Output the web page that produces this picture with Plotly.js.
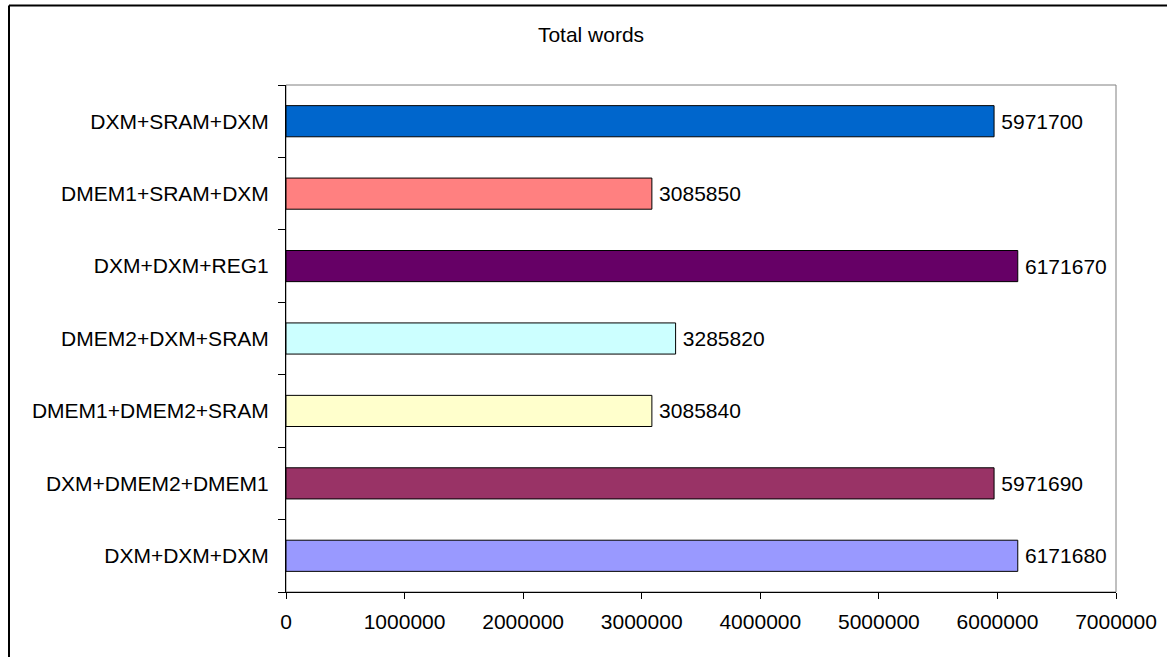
<!DOCTYPE html>
<html>
<head>
<meta charset="utf-8">
<script src="https://cdn.plot.ly/plotly-3.0.1.min.js"></script>
<style>
html,body{margin:0;padding:0;background:#fff;}
#chart{width:1167px;height:657px;}
</style>
</head>
<body>
<div id="chart"></div>
<script>
// Data (bottom to top)
const categories = [
  "DXM+DXM+DXM",
  "DXM+DMEM2+DMEM1",
  "DMEM1+DMEM2+SRAM",
  "DMEM2+DXM+SRAM",
  "DXM+DXM+REG1",
  "DMEM1+SRAM+DXM",
  "DXM+SRAM+DXM"
];
const totalWords = [6171680, 5971690, 3085840, 3285820, 6171670, 3085850, 5971700];
const barColors = ["#9999FF", "#993366", "#FFFFCC", "#CCFFFF", "#660066", "#FF8080", "#0066CC"];
const xTickValues = [0, 1000000, 2000000, 3000000, 4000000, 5000000, 6000000, 7000000];
const chartTitle = "Total words";

const font = {family: "Liberation Sans, Arial, sans-serif", size: 21, color: "#000"};

const trace = {
  type: "bar",
  orientation: "h",
  y: categories,
  x: totalWords,
  width: 0.43,
  marker: {color: barColors, line: {color: "#000", width: 1}},
  text: totalWords.map(String),
  texttemplate: "\u2009%{text}",
  textposition: "outside",
  textfont: font,
  cliponaxis: false,
  hoverinfo: "none"
};

const layout = {
  width: 1167,
  height: 657,
  margin: {l: 286, r: 51, t: 85, b: 65},
  paper_bgcolor: "#fff",
  plot_bgcolor: "#fff",
  font: font,
  showlegend: false,
  title: {
    text: chartTitle,
    font: font,
    xref: "container", yref: "container",
    x: 591/1167, y: 1 - 35/657,
    xanchor: "center", yanchor: "middle"
  },
  xaxis: {
    range: [0, 7000000],
    tickvals: xTickValues,
    ticktext: xTickValues.map(String),
    showgrid: false,
    zeroline: false,
    showline: true,
    linecolor: "#000",
    linewidth: 1,
    ticks: "outside",
    ticklen: 6,
    tickcolor: "#000",
    tickfont: font,
    ticklabelstandoff: 5,
    fixedrange: true
  },
  yaxis: {
    type: "category",
    categoryorder: "array",
    categoryarray: categories,
    range: [-0.5, categories.length - 0.5],
    showgrid: false,
    zeroline: false,
    showline: true,
    linecolor: "#000",
    linewidth: 1,
    ticks: "outside",
    tickson: "boundaries",
    ticklen: 7,
    tickcolor: "#000",
    tickfont: font,
    ticklabelstandoff: 12,
    fixedrange: true
  },
  shapes: [
    {type: "rect", xref: "paper", yref: "paper", x0: 0, x1: 1, y0: 0, y1: 1,
     line: {color: "#808080", width: 1}, layer: "below"},
    {type: "line", xref: "paper", yref: "paper",
     x0: (9 - 286)/830, x1: (9 - 286)/830, y0: -0.3, y1: (592 - 5.5)/507,
     line: {color: "#000", width: 2}, layer: "above"},
    {type: "line", xref: "paper", yref: "paper",
     x0: (9 - 286)/830, x1: 1.2, y0: (592 - 5.5)/507, y1: (592 - 5.5)/507,
     line: {color: "#000", width: 2}, layer: "above"}
  ]
};

Plotly.newPlot("chart", [trace], layout, {staticPlot: true, displayModeBar: false});
</script>
</body>
</html>
